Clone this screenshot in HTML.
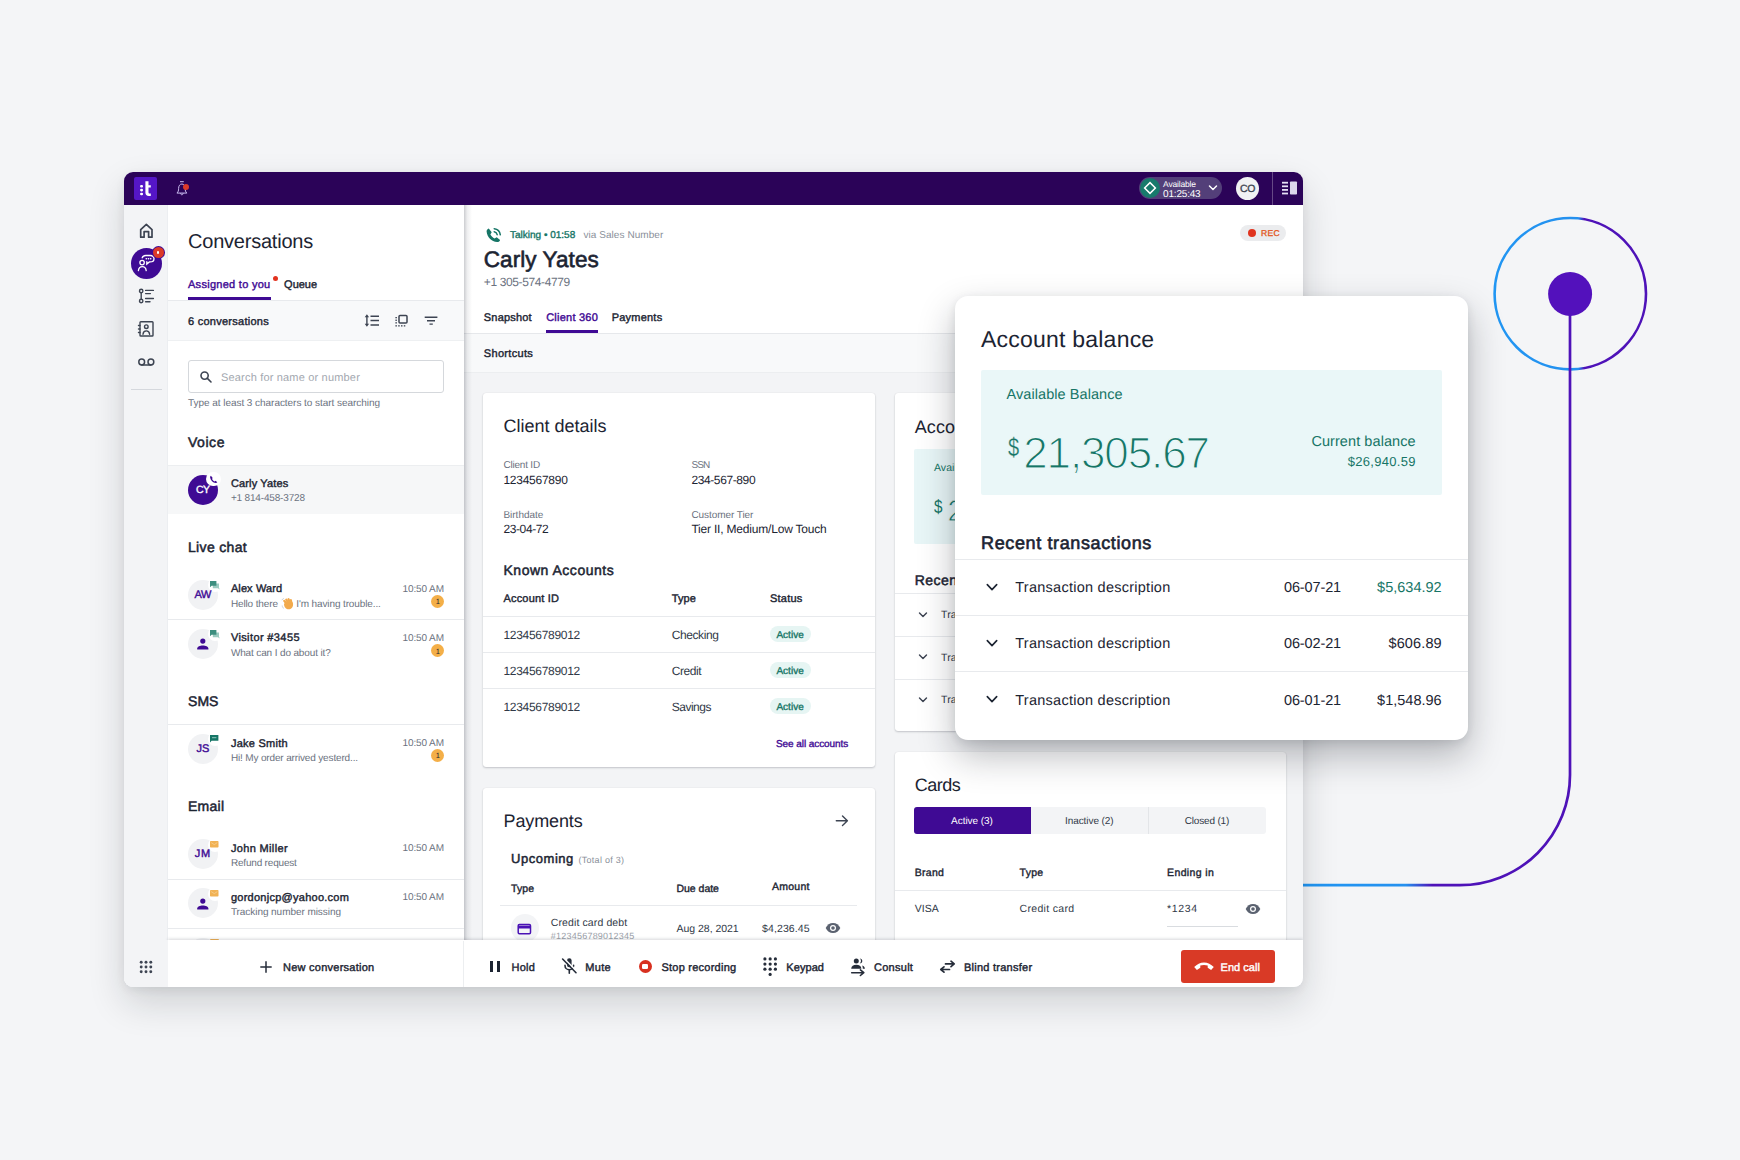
<!DOCTYPE html>
<html lang="en"><head><meta charset="utf-8"><title>Client 360</title>
<style>
html,body{margin:0;padding:0;}
body{width:1740px;height:1160px;overflow:hidden;background:#f4f5f7;font-family:"Liberation Sans",sans-serif;}
#page{position:relative;width:1740px;height:1160px;overflow:hidden;background:#f4f5f7;}
#page div,#page span,#page svg{position:absolute;box-sizing:border-box;}
.t{white-space:nowrap;text-rendering:geometricPrecision;}
.layer{left:0;top:0;width:1740px;height:1160px;}
#appshadow{left:124px;top:172px;width:1179px;height:815px;border-radius:9px 9px 9px 9px;background:#fff;
  box-shadow:0 16px 36px rgba(20,22,30,.16),0 3px 10px rgba(20,22,30,.07);}
#app{clip-path:inset(172px 437px 173px 124px round 9px 9px 9px 9px);}
#topbar{left:124px;top:172px;width:1179px;height:33px;background:#2b0358;}
#nav{left:124px;top:205px;width:44px;height:782px;background:#f3f4f6;border-right:1px solid #eceef1;}
#conv{left:168px;top:205px;width:296px;height:782px;background:#fff;}
#main{left:464px;top:205px;width:839px;height:782px;background:#f3f4f6;}
#mainhead{left:464px;top:205px;width:839px;height:128px;background:#fff;}
#shortcuts{left:464px;top:333px;width:839px;height:40px;background:#f8f9fa;border-top:1px solid #e6e8eb;border-bottom:1px solid #eceef0;}
.card{background:#fff;border-radius:3px;box-shadow:0 1px 2px rgba(30,35,50,.22),0 0 1px rgba(30,35,50,.12);}
.hl{height:1px;background:#e8eaed;}
.pill{background:#e6f5f3;border-radius:8px;}
#bottombar{left:168px;top:940px;width:1135px;height:47px;background:#fff;box-shadow:0 -1px 3px rgba(30,35,50,.18);}
#popupshadow{left:955px;top:296px;width:513px;height:444px;border-radius:13px;background:#fff;
  box-shadow:0 16px 36px rgba(20,25,35,.29),0 3px 10px rgba(20,25,35,.10);}
.av{border-radius:50%;background:#f1f2f4;}

</style></head>
<body>
<div id="page">
<!-- decorative connector -->
<svg class="layer" id="deco" viewBox="0 0 1740 1160" width="1740" height="1160">
  <defs>
    <linearGradient id="gcirc" x1="1494" y1="0" x2="1646" y2="0" gradientUnits="userSpaceOnUse">
      <stop offset="0" stop-color="#2196f3"/><stop offset=".555" stop-color="#2490ee"/><stop offset=".595" stop-color="#4e12b8"/><stop offset="1" stop-color="#4e12b8"/>
    </linearGradient>
    <linearGradient id="gline" x1="1303" y1="0" x2="1570" y2="0" gradientUnits="userSpaceOnUse">
      <stop offset="0" stop-color="#2196f3"/><stop offset=".385" stop-color="#2490ee"/><stop offset=".485" stop-color="#4e12b8"/><stop offset="1" stop-color="#4e12b8"/>
    </linearGradient>
  </defs>
  <circle cx="1570.3" cy="293.7" r="75.7" fill="none" stroke="url(#gcirc)" stroke-width="2.6"/>
  <path d="M1570 294 V775 A110.2 110.2 0 0 1 1459.800 885.200 H1300" fill="none" stroke="url(#gline)" stroke-width="2.700"/>
  <circle cx="1570.100" cy="294" r="22" fill="#5311bc"/>
</svg>

<div id="appshadow"></div>
<div id="app" class="layer">
  <div id="nav"></div>
  <div id="conv"></div>
  <div id="main"></div>
  <div id="mainhead"></div>
  <div id="shortcuts"></div>
  <div style="left:464px;top:205px;width:8px;height:735px;background:linear-gradient(to right,rgba(40,45,60,.24),rgba(40,45,60,.08) 40%,rgba(40,45,60,0));"></div>

  <!-- ============ conversations panel ============ -->
  <div style="left:188px;top:297px;width:83px;height:3px;background:#3f0a94;"></div>
  <div class="hl" style="left:168px;top:300px;width:296px;"></div>
  <div style="left:168px;top:301px;width:296px;height:40px;background:#f8f9fa;border-bottom:1px solid #eef0f2;"></div>
  <div style="left:272.7px;top:276.3px;width:5px;height:5px;border-radius:50%;background:#e2331f;"></div>
  <div style="left:188px;top:360px;width:256px;height:33px;border:1px solid #d5d8dc;border-radius:3px;background:#fff;"></div>
  <div class="hl" style="left:168px;top:465px;width:296px;background:#eceef0;"></div>
  <div style="left:168px;top:466px;width:296px;height:48px;background:#f6f7f8;"></div>
  <div class="hl" style="left:168px;top:619px;width:296px;"></div>
  <div class="hl" style="left:168px;top:724px;width:296px;"></div>
  <div class="hl" style="left:168px;top:879px;width:296px;"></div>
  <div class="hl" style="left:168px;top:928px;width:296px;"></div>
  <div class="av" style="left:188px;top:938px;width:30px;height:30px;"></div>
  <div style="left:210px;top:939px;width:8.5px;height:4px;border-radius:1px;background:#f1b254;"></div>
  <!-- avatars -->
  <div style="left:188px;top:475px;width:30px;height:30px;border-radius:50%;background:#3f0a94;"></div>
  <div class="av" style="left:188px;top:580px;width:30px;height:30px;"></div>
  <div class="av" style="left:188px;top:629px;width:30px;height:30px;"></div>
  <div class="av" style="left:188px;top:734px;width:30px;height:30px;"></div>
  <div class="av" style="left:188px;top:839px;width:30px;height:30px;"></div>
  <div class="av" style="left:188px;top:888px;width:30px;height:30px;"></div>
  <!-- unread badges -->
  <div style="left:431px;top:595px;width:13px;height:13px;border-radius:50%;background:#f4af48;"></div>
  <div style="left:431px;top:644px;width:13px;height:13px;border-radius:50%;background:#f4af48;"></div>
  <div style="left:431px;top:749px;width:13px;height:13px;border-radius:50%;background:#f4af48;"></div>
  <svg style="left:363px;top:313px;" width="18" height="15" viewBox="0 0 18 15"><g fill="none" stroke="#3d4452" stroke-width="1.5"><path d="M7.500 3.300H16M7.500 7.500H16M7.500 11.900H16"/><path d="M3.900 3V12" stroke-width="1.400"/></g><path d="M3.900 1.300L6.100 4.200H1.700ZM3.900 13.700L6.100 10.800H1.700Z" fill="#3d4452"/></svg>
<svg style="left:394px;top:313px;" width="16" height="15" viewBox="0 0 16 15"><rect x="5" y="2.400" width="8" height="7.600" rx="1" fill="none" stroke="#3d4452" stroke-width="1.500"/><g fill="#3d4452"><rect x="1.400" y="4" width="1.500" height="1.300"/><rect x="1.400" y="6.600" width="1.500" height="1.300"/><rect x="1.400" y="9.200" width="1.500" height="1.300"/><rect x="1.400" y="12.200" width="1.500" height="1.300"/><rect x="4.200" y="12.200" width="1.500" height="1.300"/><rect x="7" y="12.200" width="1.500" height="1.300"/><rect x="9.800" y="12.200" width="1.500" height="1.300"/></g></svg>
<svg style="left:423px;top:315px;" width="16" height="11" viewBox="0 0 16 11"><path d="M1.700 2.200H14.400M4 5.700H12M6.500 9.100H9.800" fill="none" stroke="#3d4452" stroke-width="1.400"/></svg>
<svg style="left:198px;top:369px;" width="16" height="16" viewBox="0 0 16 16"><g fill="none" stroke="#3d4452" stroke-width="1.600" stroke-linecap="round"><circle cx="6.600" cy="6.600" r="3.600"/><path d="M9.400 9.400L13 13"/></g></svg>
<div style="left:206.400px;top:471.900px;width:14.400px;height:14.400px;border-radius:50%;background:#fff;"></div>
<svg style="left:209.2px;top:474.6px;" width="9" height="9" viewBox="0 0 9 9"><path d="M1.900 .8c-.6.400-.9.900-.8 1.600.500 2.900 2.700 5.200 5.600 5.700.7.100 1.200-.200 1.600-.800l-1.700-1.500-1.100.700c-1-.600-1.900-1.500-2.500-2.500l.7-1.100z" fill="#3f0a94"/></svg>
<div style="left:207.5px;top:577.8px;width:14px;height:14px;border-radius:50%;background:#fff;"></div>
<svg style="left:210px;top:580.5px;" width="9.5" height="9" viewBox="0 0 9.5 9"><path d="M2.800 2.400h6.200v4.600l1 1.500-2.200-1.200H2.800z" fill="#9ccbc0"/><path d="M0 0h6.400v4.700H1.600L0 6.200z" fill="#3d8f7f"/></svg>
<div style="left:207.5px;top:627px;width:14px;height:14px;border-radius:50%;background:#fff;"></div>
<svg style="left:210px;top:629.7px;" width="9.5" height="9" viewBox="0 0 9.5 9"><path d="M2.800 2.400h6.200v4.600l1 1.500-2.200-1.200H2.800z" fill="#9ccbc0"/><path d="M0 0h6.400v4.700H1.600L0 6.200z" fill="#3d8f7f"/></svg>
<div style="left:207.5px;top:731.800px;width:14px;height:14px;border-radius:50%;background:#fff;"></div>
<svg style="left:210.2px;top:735.3px;" width="8.4" height="7.4" viewBox="0 0 8.4 7.4"><path d="M0 0h8.400v5.800H1.600L0 7.400z" fill="#167566"/><rect x="2" y="2.200" width="4.400" height="1" fill="#8fc7ba"/></svg>
<div style="left:207.5px;top:837.6px;width:14px;height:14px;border-radius:50%;background:#fff;"></div>
<svg style="left:210.2px;top:841.4px;" width="8.5" height="6.5" viewBox="0 0 8.5 6.5"><rect width="8.500" height="6.500" rx=".8" fill="#f1b254"/><path d="M1.200 1.600L4.250 3.600L7.300 1.600" stroke="#f6cf93" stroke-width=".8" fill="none"/></svg>
<div style="left:207.5px;top:886.6px;width:14px;height:14px;border-radius:50%;background:#fff;"></div>
<svg style="left:210.2px;top:890.4px;" width="8.5" height="6.5" viewBox="0 0 8.5 6.5"><rect width="8.500" height="6.500" rx=".8" fill="#f1b254"/><path d="M1.200 1.600L4.250 3.600L7.300 1.600" stroke="#f6cf93" stroke-width=".8" fill="none"/></svg>
<svg style="left:196px;top:637.3px;" width="14" height="14" viewBox="0 0 14 14"><circle cx="6.800" cy="4.100" r="2.600" fill="#3f0a94"/><path d="M1.200 12.400v-.8c0-2 2.800-3.200 5.600-3.200s5.600 1.200 5.600 3.200v.8z" fill="#3f0a94"/></svg>
<svg style="left:196px;top:897.3px;" width="14" height="14" viewBox="0 0 14 14"><circle cx="6.800" cy="4.100" r="2.600" fill="#3f0a94"/><path d="M1.200 12.400v-.8c0-2 2.800-3.200 5.600-3.200s5.600 1.200 5.600 3.200v.8z" fill="#3f0a94"/></svg>
<svg style="left:281px;top:597px;" width="13" height="13" viewBox="0 0 13 13"><g fill="#f2aa4c"><rect x="3.300" y="2.300" width="2.200" height="6" rx="1.100" transform="rotate(-38 4.400 5.300)"/><rect x="5.200" y="1.200" width="2.200" height="6.500" rx="1.100" transform="rotate(-30 6.300 4.400)"/><rect x="7.200" y="1" width="2.200" height="6.500" rx="1.100" transform="rotate(-22 8.300 4.200)"/><rect x="9.300" y="2" width="2" height="5.500" rx="1" transform="rotate(-14 10.300 4.700)"/><path d="M3 7c0-1 5-3.500 7.500-2.500 1.800.8 2 3.500 1 5.500-1 1.800-3 2.600-5 2.200C4.200 11.700 3 9.500 3 7z"/></g><path d="M1.200 8.500c0 1.300.6 2.300 1.600 2.900M.9 3.200c.3-.9 1-1.500 1.900-1.800" stroke="#b9bec6" stroke-width=".7" fill="none"/></svg>
  <span class="t" style="top:228px;font-size:20px;line-height:28px;color:#1c2432;left:188px;letter-spacing:-0.219px;">Conversations</span>
<span class="t" style="top:277px;font-size:11px;line-height:16px;color:#3f0a94;-webkit-text-stroke:0.40px #3f0a94;left:188px;letter-spacing:0.281px;">Assigned to you</span>
<span class="t" style="top:277px;font-size:11px;line-height:16px;color:#1c2432;-webkit-text-stroke:0.40px #1c2432;left:284.1px;letter-spacing:-0.006px;">Queue</span>
<span class="t" style="top:314px;font-size:11px;line-height:16px;color:#1c2432;-webkit-text-stroke:0.40px #1c2432;left:188px;letter-spacing:0.264px;">6 conversations</span>
<span class="t" style="top:370px;font-size:11px;line-height:16px;color:#a3a8b0;left:221px;letter-spacing:0.179px;">Search for name or number</span>
<span class="t" style="top:397px;font-size:10px;line-height:14px;color:#6b7280;left:188px;letter-spacing:-0.044px;">Type at least 3 characters to start searching</span>
<span class="t" style="top:432px;font-size:14px;line-height:20px;color:#1c2432;-webkit-text-stroke:0.50px #1c2432;left:188px;letter-spacing:0.550px;">Voice</span>
<span class="t" style="top:476px;font-size:11px;line-height:16px;color:#1c2432;-webkit-text-stroke:0.40px #1c2432;left:230.9px;letter-spacing:0.151px;">Carly Yates</span>
<span class="t" style="top:492px;font-size:10px;line-height:14px;color:#6b7280;left:230.9px;letter-spacing:-0.165px;">+1 814-458-3728</span>
<span class="t" style="top:483px;font-size:10.5px;line-height:14px;color:#fff;-webkit-text-stroke:0.38px #fff;left:196px;letter-spacing:-0.547px;">CY</span>
<span class="t" style="top:537px;font-size:14px;line-height:20px;color:#1c2432;-webkit-text-stroke:0.50px #1c2432;left:188px;letter-spacing:0.328px;">Live chat</span>
<span class="t" style="top:581px;font-size:11px;line-height:16px;color:#1c2432;-webkit-text-stroke:0.40px #1c2432;left:230.9px;letter-spacing:0.108px;">Alex Ward</span>
<span class="t" style="top:598px;font-size:10px;line-height:14px;color:#6b7280;left:230.9px;letter-spacing:-0.124px;">Hello there</span>
<span class="t" style="top:598px;font-size:10px;line-height:14px;color:#6b7280;left:296.3px;letter-spacing:-0.122px;">I&#x27;m having trouble...</span>
<span class="t" style="top:583px;font-size:10px;line-height:14px;color:#6b7280;right:1296px;letter-spacing:-0.108px;margin-right:0.108px;">10:50 AM</span>
<span class="t" style="top:587px;font-size:11px;line-height:16px;color:#3f0a94;-webkit-text-stroke:0.40px #3f0a94;left:194.4px;letter-spacing:-0.306px;">AW</span>
<span class="t" style="top:597px;font-size:7.5px;line-height:10px;color:#1c2432;left:435.8px;">1</span>
<span class="t" style="top:630px;font-size:11px;line-height:16px;color:#1c2432;-webkit-text-stroke:0.40px #1c2432;left:230.9px;letter-spacing:0.383px;">Visitor #3455</span>
<span class="t" style="top:647px;font-size:10px;line-height:14px;color:#6b7280;left:230.9px;letter-spacing:-0.137px;">What can I do about it?</span>
<span class="t" style="top:632px;font-size:10px;line-height:14px;color:#6b7280;right:1296px;letter-spacing:-0.108px;margin-right:0.108px;">10:50 AM</span>
<span class="t" style="top:647px;font-size:7.5px;line-height:10px;color:#1c2432;left:435.8px;">1</span>
<span class="t" style="top:691px;font-size:14px;line-height:20px;color:#1c2432;-webkit-text-stroke:0.50px #1c2432;left:188px;letter-spacing:0.052px;">SMS</span>
<span class="t" style="top:736px;font-size:11px;line-height:16px;color:#1c2432;-webkit-text-stroke:0.40px #1c2432;left:230.9px;letter-spacing:0.258px;">Jake Smith</span>
<span class="t" style="top:752px;font-size:10px;line-height:14px;color:#6b7280;left:230.9px;letter-spacing:-0.152px;">Hi! My order arrived yesterd...</span>
<span class="t" style="top:737px;font-size:10px;line-height:14px;color:#6b7280;right:1296px;letter-spacing:-0.108px;margin-right:0.108px;">10:50 AM</span>
<span class="t" style="top:741px;font-size:11px;line-height:16px;color:#3f0a94;-webkit-text-stroke:0.40px #3f0a94;left:196.4px;letter-spacing:0.078px;">JS</span>
<span class="t" style="top:751px;font-size:7.5px;line-height:10px;color:#1c2432;left:435.8px;">1</span>
<span class="t" style="top:796px;font-size:14px;line-height:20px;color:#1c2432;-webkit-text-stroke:0.50px #1c2432;left:188px;letter-spacing:0.257px;">Email</span>
<span class="t" style="top:841px;font-size:11px;line-height:16px;color:#1c2432;-webkit-text-stroke:0.40px #1c2432;left:230.9px;letter-spacing:0.347px;">John Miller</span>
<span class="t" style="top:857px;font-size:10px;line-height:14px;color:#6b7280;left:230.9px;letter-spacing:-0.185px;">Refund request</span>
<span class="t" style="top:842px;font-size:10px;line-height:14px;color:#6b7280;right:1296px;letter-spacing:-0.108px;margin-right:0.108px;">10:50 AM</span>
<span class="t" style="top:846px;font-size:11px;line-height:16px;color:#3f0a94;-webkit-text-stroke:0.40px #3f0a94;left:194.8px;letter-spacing:0.664px;">JM</span>
<span class="t" style="top:890px;font-size:11px;line-height:16px;color:#1c2432;-webkit-text-stroke:0.40px #1c2432;left:230.9px;letter-spacing:0.263px;">gordonjcp@yahoo.com</span>
<span class="t" style="top:906px;font-size:10px;line-height:14px;color:#6b7280;left:230.9px;letter-spacing:-0.058px;">Tracking number missing</span>
<span class="t" style="top:891px;font-size:10px;line-height:14px;color:#6b7280;right:1296px;letter-spacing:-0.108px;margin-right:0.108px;">10:50 AM</span>

  <!-- ============ main ============ -->
  <div style="left:546px;top:330px;width:52px;height:3px;background:#3f0a94;"></div>
  <div style="left:1240px;top:225px;width:46px;height:16px;border-radius:8px;background:#ebecee;"></div>
  <div style="left:1248px;top:229px;width:8px;height:8px;border-radius:50%;background:#e0341f;"></div>

  <!-- client details card -->
  <div class="card" style="left:483px;top:393px;width:392px;height:374px;"></div>
  <div class="hl" style="left:483px;top:616px;width:392px;"></div>
  <div class="hl" style="left:483px;top:652px;width:392px;"></div>
  <div class="hl" style="left:483px;top:688px;width:392px;"></div>
  <div class="pill" style="left:770px;top:626px;width:41px;height:16px;"></div>
  <div class="pill" style="left:770px;top:662px;width:41px;height:16px;"></div>
  <div class="pill" style="left:770px;top:698px;width:41px;height:16px;"></div>

  <!-- payments card -->
  <div class="card" style="left:483px;top:788px;width:392px;height:220px;"></div>
  <div class="hl" style="left:500px;top:905px;width:357px;"></div>
  <div class="av" style="left:510.5px;top:914px;width:28px;height:28px;background:#f3f4f6;"></div>

  <!-- account balance card (mostly hidden) -->
  <div class="card" style="left:895px;top:393px;width:391px;height:338px;"></div>
  <div style="left:914px;top:449px;width:352px;height:95px;background:#e8f6f7;border-radius:2px;"></div>
  <div class="hl" style="left:895px;top:593px;width:391px;"></div>
  <div class="hl" style="left:895px;top:636px;width:391px;"></div>
  <div class="hl" style="left:895px;top:679px;width:391px;"></div>

  <!-- cards card -->
  <div class="card" style="left:895px;top:752px;width:391px;height:240px;"></div>
  <div style="left:914px;top:807px;width:352px;height:27px;background:#f3f4f6;border-radius:3px;"></div>
  <div style="left:914px;top:807px;width:117px;height:27px;background:#3f0a94;border-radius:3px 0 0 3px;"></div>
  <div style="left:1148px;top:807px;width:1px;height:27px;background:#e3e5e8;"></div>
  <div class="hl" style="left:895px;top:890px;width:391px;"></div>
  <div class="hl" style="left:1167px;top:926px;width:71px;background:#d9dce0;"></div>
  <svg style="left:485px;top:226.5px;" width="17" height="17" viewBox="0 0 17 17"><path d="M3.800 1.600c-1.400.500-2.300 1.500-2.200 3 .500 5.600 4.900 10 10.500 10.500 1.500.100 2.500-.800 3-2.200l-3.400-2.600-2.200 1.300c-1.700-1-3.100-2.400-4.100-4.100l1.300-2.200z" fill="#167566"/><g fill="none" stroke="#167566" stroke-width="1.500" stroke-linecap="round"><path d="M9.200 4.700c1.500.300 2.700 1.500 3 3"/><path d="M9.200 1.700c3.200.400 5.700 2.900 6.100 6.100"/></g></svg>
<svg style="left:834px;top:814px;" width="16" height="14" viewBox="0 0 16 14"><path d="M2.300 6.700H13M8.500 1.900L13.400 6.700L8.500 11.500" fill="none" stroke="#3d4452" stroke-width="1.400" stroke-linecap="round" stroke-linejoin="round"/></svg>
<svg style="left:517px;top:922.6px;" width="15" height="12" viewBox="0 0 15 12"><rect x="1.200" y="1.500" width="12.300" height="9.200" rx="1.200" fill="none" stroke="#4a12b5" stroke-width="1.500"/><rect x="1.200" y="2.600" width="12.300" height="2.900" fill="#4a12b5"/></svg>
<svg style="left:824.7px;top:922.3px;" width="16" height="12" viewBox="0 0 16 12"><path d="M.7 6C2 2.900 4.800 1 8 1s6 1.900 7.300 5C14 9.100 11.200 11 8 11S2 9.100.7 6z" fill="#5b6270"/><circle cx="8" cy="6" r="3" fill="#fff"/><circle cx="8" cy="6" r="1.800" fill="#5b6270"/></svg>
<svg style="left:1245.2px;top:902.7px;" width="16" height="12" viewBox="0 0 16 12"><path d="M.7 6C2 2.900 4.800 1 8 1s6 1.900 7.300 5C14 9.100 11.200 11 8 11S2 9.100.7 6z" fill="#5b6270"/><circle cx="8" cy="6" r="3" fill="#fff"/><circle cx="8" cy="6" r="1.800" fill="#5b6270"/></svg>
<svg style="left:917.8px;top:610.7px;" width="10" height="8" viewBox="0 0 10 8"><path d="M1.500 2L5 5.600L8.500 2" fill="none" stroke="#3d4452" stroke-width="1.400" stroke-linecap="round" stroke-linejoin="round"/></svg>
<svg style="left:917.8px;top:653px;" width="10" height="8" viewBox="0 0 10 8"><path d="M1.500 2L5 5.600L8.500 2" fill="none" stroke="#3d4452" stroke-width="1.400" stroke-linecap="round" stroke-linejoin="round"/></svg>
<svg style="left:917.8px;top:695.7px;" width="10" height="8" viewBox="0 0 10 8"><path d="M1.500 2L5 5.600L8.500 2" fill="none" stroke="#3d4452" stroke-width="1.400" stroke-linecap="round" stroke-linejoin="round"/></svg>
  <span class="t" style="top:229px;font-size:10px;line-height:14px;color:#167566;-webkit-text-stroke:0.36px #167566;left:510px;">Talking • 01:58</span>
<span class="t" style="top:229px;font-size:10px;line-height:14px;color:#8a909a;left:583.4px;letter-spacing:0.067px;">via Sales Number</span>
<span class="t" style="top:244px;font-size:22.5px;line-height:32px;color:#1c2432;-webkit-text-stroke:0.62px #1c2432;left:483.8px;letter-spacing:0.071px;">Carly Yates</span>
<span class="t" style="top:274px;font-size:12px;line-height:16px;color:#6b7280;left:483.8px;letter-spacing:-0.383px;">+1 305-574-4779</span>
<span class="t" style="top:310px;font-size:11px;line-height:16px;color:#1c2432;-webkit-text-stroke:0.40px #1c2432;left:483.8px;letter-spacing:0.189px;">Snapshot</span>
<span class="t" style="top:310px;font-size:11px;line-height:16px;color:#3f0a94;-webkit-text-stroke:0.40px #3f0a94;left:546.2px;letter-spacing:0.225px;">Client 360</span>
<span class="t" style="top:310px;font-size:11px;line-height:16px;color:#1c2432;-webkit-text-stroke:0.40px #1c2432;left:611.7px;letter-spacing:0.222px;">Payments</span>
<span class="t" style="top:346px;font-size:11px;line-height:16px;color:#1c2432;-webkit-text-stroke:0.40px #1c2432;left:483.8px;letter-spacing:0.315px;">Shortcuts</span>
<span class="t" style="top:227px;font-size:8.5px;line-height:12px;color:#e2571e;-webkit-text-stroke:0.35px #e2571e;left:1261.1px;letter-spacing:0.249px;">REC</span>
<span class="t" style="top:413px;font-size:18px;line-height:26px;color:#1c2432;left:503.4px;letter-spacing:-0.004px;">Client details</span>
<span class="t" style="top:459px;font-size:10px;line-height:14px;color:#6b7280;left:503.4px;letter-spacing:-0.195px;">Client ID</span>
<span class="t" style="top:472px;font-size:12px;line-height:16px;color:#1c2432;left:503.4px;letter-spacing:-0.255px;">1234567890</span>
<span class="t" style="top:459px;font-size:10px;line-height:14px;color:#6b7280;left:691.4px;letter-spacing:-0.854px;">SSN</span>
<span class="t" style="top:472px;font-size:12px;line-height:16px;color:#1c2432;left:691.4px;letter-spacing:-0.388px;">234-567-890</span>
<span class="t" style="top:509px;font-size:10px;line-height:14px;color:#6b7280;left:503.4px;">Birthdate</span>
<span class="t" style="top:521px;font-size:12px;line-height:16px;color:#1c2432;left:503.4px;letter-spacing:-0.381px;">23-04-72</span>
<span class="t" style="top:509px;font-size:10px;line-height:14px;color:#6b7280;left:691.4px;letter-spacing:-0.061px;">Customer Tier</span>
<span class="t" style="top:521px;font-size:12px;line-height:16px;color:#1c2432;left:691.4px;letter-spacing:-0.195px;">Tier II, Medium/Low Touch</span>
<span class="t" style="top:560px;font-size:14px;line-height:20px;color:#1c2432;-webkit-text-stroke:0.50px #1c2432;left:503.5px;letter-spacing:0.513px;">Known Accounts</span>
<span class="t" style="top:591px;font-size:11px;line-height:16px;color:#1c2432;-webkit-text-stroke:0.40px #1c2432;left:503.5px;letter-spacing:0.169px;">Account ID</span>
<span class="t" style="top:591px;font-size:11px;line-height:16px;color:#1c2432;-webkit-text-stroke:0.40px #1c2432;left:671.7px;letter-spacing:0.085px;">Type</span>
<span class="t" style="top:591px;font-size:11px;line-height:16px;color:#1c2432;-webkit-text-stroke:0.40px #1c2432;left:770px;letter-spacing:0.235px;">Status</span>
<span class="t" style="top:627px;font-size:12px;line-height:16px;color:#313947;left:503.5px;letter-spacing:-0.299px;">123456789012</span>
<span class="t" style="top:627px;font-size:12px;line-height:16px;color:#313947;left:671.7px;letter-spacing:-0.404px;">Checking</span>
<span class="t" style="top:629px;font-size:10px;line-height:14px;color:#167566;-webkit-text-stroke:0.36px #167566;left:776.4px;letter-spacing:0.028px;">Active</span>
<span class="t" style="top:663px;font-size:12px;line-height:16px;color:#313947;left:503.5px;letter-spacing:-0.299px;">123456789012</span>
<span class="t" style="top:663px;font-size:12px;line-height:16px;color:#313947;left:671.7px;letter-spacing:-0.436px;">Credit</span>
<span class="t" style="top:665px;font-size:10px;line-height:14px;color:#167566;-webkit-text-stroke:0.36px #167566;left:776.4px;letter-spacing:0.028px;">Active</span>
<span class="t" style="top:699px;font-size:12px;line-height:16px;color:#313947;left:503.5px;letter-spacing:-0.299px;">123456789012</span>
<span class="t" style="top:699px;font-size:12px;line-height:16px;color:#313947;left:671.7px;letter-spacing:-0.486px;">Savings</span>
<span class="t" style="top:701px;font-size:10px;line-height:14px;color:#167566;-webkit-text-stroke:0.36px #167566;left:776.4px;letter-spacing:0.028px;">Active</span>
<span class="t" style="top:738px;font-size:10px;line-height:14px;color:#3f0a94;-webkit-text-stroke:0.36px #3f0a94;left:776px;letter-spacing:-0.074px;">See all accounts</span>
<span class="t" style="top:808px;font-size:18px;line-height:26px;color:#1c2432;left:503.6px;letter-spacing:-0.131px;">Payments</span>
<span class="t" style="top:850px;font-size:13px;line-height:18px;color:#1c2432;-webkit-text-stroke:0.47px #1c2432;left:511.1px;letter-spacing:0.521px;">Upcoming</span>
<span class="t" style="top:854px;font-size:9px;line-height:12px;color:#8a909a;left:578.6px;letter-spacing:0.256px;">(Total of 3)</span>
<span class="t" style="top:882px;font-size:10.5px;line-height:14px;color:#1c2432;-webkit-text-stroke:0.38px #1c2432;left:511.1px;letter-spacing:0.059px;">Type</span>
<span class="t" style="top:882px;font-size:10.5px;line-height:14px;color:#1c2432;-webkit-text-stroke:0.38px #1c2432;left:676.5px;letter-spacing:-0.028px;">Due date</span>
<span class="t" style="top:880px;font-size:10.5px;line-height:14px;color:#1c2432;-webkit-text-stroke:0.38px #1c2432;left:772px;letter-spacing:0.252px;">Amount</span>
<span class="t" style="top:916px;font-size:10.5px;line-height:14px;color:#313947;left:550.8px;letter-spacing:0.111px;">Credit card debt</span>
<span class="t" style="top:930px;font-size:9px;line-height:12px;color:#9aa0a8;left:550.8px;letter-spacing:0.225px;">#123456789012345</span>
<span class="t" style="top:922px;font-size:10.5px;line-height:14px;color:#313947;left:676.5px;letter-spacing:-0.024px;">Aug 28, 2021</span>
<span class="t" style="top:922px;font-size:10.5px;line-height:14px;color:#313947;left:762.1px;letter-spacing:0.098px;">$4,236.45</span>
<span class="t" style="top:414px;font-size:18px;line-height:26px;color:#1c2432;left:914.7px;letter-spacing:0.127px;">Account balance</span>
<span class="t" style="top:461px;font-size:10.5px;line-height:14px;color:#167566;left:934px;letter-spacing:0.041px;">Available Balance</span>
<span class="t" style="top:495px;font-size:19px;line-height:26px;color:#167566;left:934px;transform:scaleX(.8);transform-origin:left center;">$</span>
<span class="t" style="top:491px;font-size:30px;line-height:42px;color:#167566;left:947.6px;letter-spacing:-0.385px;-webkit-text-stroke:0.8px #e8f6f7;">21,305.67</span>
<span class="t" style="top:570px;font-size:14px;line-height:20px;color:#1c2432;-webkit-text-stroke:0.50px #1c2432;left:914.7px;letter-spacing:0.488px;">Recent transactions</span>
<span class="t" style="top:608px;font-size:10.5px;line-height:14px;color:#313947;left:941px;letter-spacing:0.166px;">Transaction description</span>
<span class="t" style="top:651px;font-size:10.5px;line-height:14px;color:#313947;left:941px;letter-spacing:0.166px;">Transaction description</span>
<span class="t" style="top:693px;font-size:10.5px;line-height:14px;color:#313947;left:941px;letter-spacing:0.166px;">Transaction description</span>
<span class="t" style="top:772px;font-size:18px;line-height:26px;color:#1c2432;left:914.7px;letter-spacing:-0.503px;">Cards</span>
<span class="t" style="top:815px;font-size:10px;line-height:14px;color:#fff;left:951.1px;letter-spacing:-0.053px;">Active (3)</span>
<span class="t" style="top:815px;font-size:10px;line-height:14px;color:#313947;left:1065px;letter-spacing:-0.072px;">Inactive (2)</span>
<span class="t" style="top:815px;font-size:10px;line-height:14px;color:#313947;left:1184.7px;letter-spacing:-0.174px;">Closed (1)</span>
<span class="t" style="top:866px;font-size:10.5px;line-height:14px;color:#1c2432;-webkit-text-stroke:0.38px #1c2432;left:914.7px;letter-spacing:0.294px;">Brand</span>
<span class="t" style="top:866px;font-size:10.5px;line-height:14px;color:#1c2432;-webkit-text-stroke:0.38px #1c2432;left:1019.5px;letter-spacing:0.309px;">Type</span>
<span class="t" style="top:866px;font-size:10.5px;line-height:14px;color:#1c2432;-webkit-text-stroke:0.38px #1c2432;left:1167.1px;letter-spacing:0.356px;">Ending in</span>
<span class="t" style="top:902px;font-size:10.5px;line-height:14px;color:#313947;left:914.7px;letter-spacing:0.016px;">VISA</span>
<span class="t" style="top:902px;font-size:10.5px;line-height:14px;color:#313947;left:1019.5px;letter-spacing:0.331px;">Credit card</span>
<span class="t" style="top:902px;font-size:10.5px;line-height:14px;color:#313947;left:1167.1px;letter-spacing:0.609px;">*1234</span>

  <!-- bottom bar -->
  <div id="bottombar"></div>
  <div style="left:124px;top:940px;width:44px;height:47px;background:#f3f4f6;"></div>
  <div style="left:463px;top:941px;width:1px;height:46px;background:#eceef0;"></div>
  <div style="left:1181px;top:950px;width:93.5px;height:33px;border-radius:3px;background:#d93a26;"></div>
  <svg style="left:259px;top:960px;" width="14" height="14" viewBox="0 0 14 14"><path d="M7 1.300V12.700M1.300 7H12.700" stroke="#262d3a" stroke-width="1.500" fill="none"/></svg>
<div style="left:489.800px;top:961px;width:3.500px;height:11px;background:#1c2432;"></div>
<div style="left:496.700px;top:961px;width:3.500px;height:11px;background:#1c2432;"></div>
<svg style="left:561px;top:957px;" width="17" height="18" viewBox="0 0 17 18"><g fill="none" stroke="#262d3a" stroke-width="1.600" stroke-linecap="round"><path d="M4 8.400c0 2.500 1.900 4.300 4.300 4.300s4.300-1.800 4.300-4.300"/><path d="M8.300 12.800V16.200"/></g><rect x="6" y="1.300" width="4.600" height="9" rx="2.300" fill="#262d3a"/><path d="M3.200 1.500L13.600 12.100" stroke="#fff" stroke-width="1.500"/><path d="M1.600 2L15 15.700" stroke="#262d3a" stroke-width="1.600" stroke-linecap="round"/></svg>
<div style="left:638.600px;top:960px;width:13.200px;height:13.200px;border-radius:50%;background:#d8301f;"></div>
<div style="left:642.400px;top:963.800px;width:5.600px;height:5.600px;border-radius:1.200px;background:#fff;"></div>
<svg style="left:763px;top:957px;" width="15" height="20" viewBox="0 0 15 20"><circle cx="1.90" cy="1.90" r="1.600" fill="#262d3a"/><circle cx="1.90" cy="7.05" r="1.600" fill="#262d3a"/><circle cx="1.90" cy="12.20" r="1.600" fill="#262d3a"/><circle cx="7.15" cy="1.90" r="1.600" fill="#262d3a"/><circle cx="7.15" cy="7.05" r="1.600" fill="#262d3a"/><circle cx="7.15" cy="12.20" r="1.600" fill="#262d3a"/><circle cx="12.40" cy="1.90" r="1.600" fill="#262d3a"/><circle cx="12.40" cy="7.05" r="1.600" fill="#262d3a"/><circle cx="12.40" cy="12.20" r="1.600" fill="#262d3a"/><circle cx="7.150" cy="17.400" r="1.600" fill="#262d3a"/></svg>
<svg style="left:850px;top:957px;" width="17" height="20" viewBox="0 0 17 20"><g fill="#262d3a"><circle cx="6.300" cy="3.900" r="2.500"/><path d="M1.200 11.800c0-2.600 2.300-4 5.100-4s5.100 1.400 5.100 4z"/><path d="M9.800 1.500c1.500.1 2.500 1.100 2.500 2.400s-1 2.300-2.500 2.400c.8-.6 1.200-1.400 1.200-2.400s-.4-1.800-1.200-2.400z"/><path d="M12.200 8.400c1.700.6 2.700 1.800 2.700 3.400h-2.100c0-1.400-.200-2.500-.600-3.400z"/></g><path d="M1.700 15.700H13.600M10.400 12.900L13.800 15.700L10.400 18.500" fill="none" stroke="#262d3a" stroke-width="1.600" stroke-linecap="round" stroke-linejoin="round"/></svg>
<svg style="left:939px;top:960px;" width="17" height="14" viewBox="0 0 17 14"><g fill="none" stroke="#262d3a" stroke-width="1.700" stroke-linecap="round" stroke-linejoin="round"><path d="M6.500 3.900H14.800M12 1.200L15.200 3.900L12 6.600"/><path d="M10.500 9.500H2.200M5 6.800L1.800 9.500L5 12.200"/></g></svg>
<svg style="left:1193px;top:961px;" width="22" height="10" viewBox="0 0 22 10"><path d="M1.200 6.100C3.900 3 7.300 1.400 11 1.400s7.100 1.600 9.800 4.700l-2.700 3-3.400-2.300V4.500c-1.100-.4-2.400-.6-3.700-.6s-2.600.2-3.700.6v2.300L3.900 9.100z" fill="#fff"/></svg>
  <span class="t" style="top:960px;font-size:11px;line-height:16px;color:#1c2432;-webkit-text-stroke:0.40px #1c2432;left:283px;letter-spacing:0.248px;">New conversation</span>
<span class="t" style="top:960px;font-size:11px;line-height:16px;color:#1c2432;-webkit-text-stroke:0.40px #1c2432;left:511.5px;letter-spacing:0.219px;">Hold</span>
<span class="t" style="top:960px;font-size:11px;line-height:16px;color:#1c2432;-webkit-text-stroke:0.40px #1c2432;left:585.3px;letter-spacing:0.308px;">Mute</span>
<span class="t" style="top:960px;font-size:11px;line-height:16px;color:#1c2432;-webkit-text-stroke:0.40px #1c2432;left:661.4px;letter-spacing:0.247px;">Stop recording</span>
<span class="t" style="top:960px;font-size:11px;line-height:16px;color:#1c2432;-webkit-text-stroke:0.40px #1c2432;left:786.3px;letter-spacing:0.065px;">Keypad</span>
<span class="t" style="top:960px;font-size:11px;line-height:16px;color:#1c2432;-webkit-text-stroke:0.40px #1c2432;left:874px;letter-spacing:0.272px;">Consult</span>
<span class="t" style="top:960px;font-size:11px;line-height:16px;color:#1c2432;-webkit-text-stroke:0.40px #1c2432;left:963.9px;letter-spacing:0.263px;">Blind transfer</span>
<span class="t" style="top:960px;font-size:11px;line-height:16px;color:#fff;-webkit-text-stroke:0.40px #fff;left:1220.5px;letter-spacing:0.045px;">End call</span>

  <!-- top bar -->
  <div id="topbar"></div>
  <div style="left:134px;top:177px;width:23px;height:23px;border-radius:2px;background:#5516c7;"></div>
  <div style="left:1139px;top:177px;width:83px;height:22px;border-radius:11px;background:#533f79;"></div>
  <div style="left:1140px;top:178px;width:20px;height:20px;border-radius:50%;background:#177a6c;"></div>
  <div style="left:1236px;top:177px;width:23px;height:23px;border-radius:50%;background:#f1f1f3;"></div>
  <div style="left:1272px;top:172px;width:1px;height:33px;background:rgba(255,255,255,.28);"></div>
  <svg style="left:134px;top:177px;" width="23" height="23" viewBox="0 0 23 23"><g fill="#fff"><rect x="6.100" y="7.900" width="2.900" height="2.600" rx="1.100"/><rect x="6.100" y="11.800" width="2.900" height="2.600" rx="1.100"/><rect x="6.100" y="15.700" width="2.900" height="2.600" rx="1.100"/><path d="M11.400 4.300h3.100v4h2.300v2.300h-2.300v4.600c0 .9.400 1.300 1.200 1.300h1.100v2.400h-1.800c-2.500 0-3.600-1.200-3.600-3.500z"/></g></svg>
<svg style="left:175px;top:180px;" width="16" height="17" viewBox="0 0 16 17"><g fill="none" stroke="#cbbdf0" stroke-width="1" stroke-linecap="round" stroke-linejoin="round"><path d="M5.400 1.700h3"/><path d="M2.200 12.800c1.100-1 1.400-2.200 1.400-4.300 0-2.700 1.300-4.500 3.300-4.500s3.300 1.800 3.300 4.500c0 2.100.3 3.300 1.400 4.300z"/><path d="M5.700 13.500c.2.900.6 1.300 1.200 1.300s1-.4 1.200-1.300"/></g></svg>
<div style="left:182.5px;top:183.600px;width:6.600px;height:6.600px;border-radius:50%;background:#dd3a2a;"></div>
<svg style="left:1140px;top:178px;" width="20" height="20" viewBox="0 0 20 20"><rect x="6.200" y="6.200" width="7.600" height="7.600" fill="none" stroke="#fff" stroke-width="1.500" transform="rotate(45 10 10)"/></svg>
<svg style="left:1207px;top:183px;" width="12" height="10" viewBox="0 0 12 10"><path d="M2.500 3L6 6.500L9.500 3" fill="none" stroke="#fff" stroke-width="1.500" stroke-linecap="round" stroke-linejoin="round"/></svg>
<svg style="left:1281px;top:180px;" width="18" height="16" viewBox="0 0 18 16"><g fill="#e6e0f5"><rect x="1" y="1.800" width="6" height="1.800"/><rect x="1" y="5.400" width="6" height="1.800"/><rect x="1" y="9" width="6" height="1.800"/><rect x="1" y="12.600" width="6" height="1.800"/><rect x="9" y="1.500" width="7" height="13" rx=".8" fill="#dcd6ec"/></g></svg>
  <span class="t" style="top:178px;font-size:8.5px;line-height:12px;color:#fff;left:1163.1px;letter-spacing:-0.172px;">Available</span>
<span class="t" style="top:188px;font-size:10px;line-height:14px;color:#fff;left:1163.1px;letter-spacing:-0.192px;">01:25:43</span>
<span class="t" style="top:182px;font-size:10.5px;line-height:14px;color:#3c4350;-webkit-text-stroke:0.38px #3c4350;left:1240.1px;letter-spacing:-0.375px;">CO</span>
  <svg style="left:138px;top:222px;" width="17" height="17" viewBox="0 0 17 17"><path d="M2.7 15.2V7.6L8.35 2.4L14 7.6V15.2H10.6V9.6H6.1V15.2Z" fill="none" stroke="#3d4452" stroke-width="1.700" stroke-linejoin="round"/></svg>
<div style="left:130.5px;top:247.5px;width:31px;height:31px;border-radius:50%;background:#3f0a94;"></div>
<svg style="left:134px;top:252px;" width="24" height="24" viewBox="0 0 24 24"><g fill="none" stroke="#fff" stroke-width="1.3" stroke-linecap="round"><circle cx="8.1" cy="10.6" r="2.2"/><path d="M4.4 18.6c.3-2.6 1.8-4 3.9-4s3.600 1.400 3.900 4"/><path d="M8.200 5.800c.6-1.600 1.800-2.300 3.600-2.300h4.400c2.400 0 3.800 1.200 3.800 3.200s-1.400 3.200-3.800 3.200h-.8l-2.600 2.200v-2.400"/><path d="M12.2 6.700h.2M14.400 6.700h.2M16.600 6.700h.2" stroke-width="1.500"/></g></svg>
<div style="left:151.8px;top:245.9px;width:13px;height:13px;border-radius:50%;background:#3f0a94;"></div>
<div style="left:152.8px;top:246.9px;width:11px;height:11px;border-radius:50%;background:#dc3a27;"></div>
<div style="left:157.1px;top:251.200px;width:2.4px;height:2.4px;border-radius:50%;background:#fff;"></div>
<svg style="left:138px;top:287px;" width="18" height="18" viewBox="0 0 18 18"><g fill="none" stroke="#3d4452" stroke-width="1.4" stroke-linecap="round"><circle cx="3.2" cy="4" r="1.700"/><circle cx="3.2" cy="14" r="1.700"/><path d="M3.2 5.800V12.200"/><path d="M7.600 3.400H15.400M7.600 6.600H12.400M7.600 11.500H15.400M7.600 14.700H12"/></g></svg>
<svg style="left:137px;top:319px;" width="19" height="20" viewBox="0 0 19 20"><g fill="none" stroke="#3d4452" stroke-width="1.4" stroke-linecap="round" stroke-linejoin="round"><rect x="3" y="2.700" width="13" height="14.300" rx=".8"/><path d="M1.500 6.500H3M1.500 10H3M1.500 13.500H3"/><circle cx="9.300" cy="7.700" r="1.800"/><path d="M6 15.200c.2-2.200 1.500-3.300 3.300-3.300s3.100 1.100 3.300 3.300"/></g></svg>
<svg style="left:136px;top:356px;" width="21" height="12" viewBox="0 0 21 12"><g fill="none" stroke="#3d4452" stroke-width="1.500" stroke-linecap="round"><circle cx="5.700" cy="6" r="2.900"/><circle cx="14.900" cy="6" r="2.900"/><path d="M5.700 8.900H14.900"/></g></svg>
<div style="left:131px;top:389px;width:31px;height:1px;background:#d5d8dd;"></div>
<svg style="left:139px;top:960px;" width="14" height="14" viewBox="0 0 14 14"><circle cx="2.2" cy="2.2" r="1.45" fill="#3d4452"/><circle cx="2.2" cy="7.0" r="1.45" fill="#3d4452"/><circle cx="2.2" cy="11.8" r="1.45" fill="#3d4452"/><circle cx="7.0" cy="2.2" r="1.45" fill="#3d4452"/><circle cx="7.0" cy="7.0" r="1.45" fill="#3d4452"/><circle cx="7.0" cy="11.8" r="1.45" fill="#3d4452"/><circle cx="11.8" cy="2.2" r="1.45" fill="#3d4452"/><circle cx="11.8" cy="7.0" r="1.45" fill="#3d4452"/><circle cx="11.8" cy="11.8" r="1.45" fill="#3d4452"/></svg>
</div>

<!-- ============ popup ============ -->
<div id="popupshadow"></div>
<div id="popup" class="layer">
  <div style="left:981px;top:370px;width:461px;height:125px;background:#eaf7f8;border-radius:2px;"></div>
  <div class="hl" style="left:955px;top:559px;width:513px;"></div>
  <div class="hl" style="left:955px;top:615px;width:513px;"></div>
  <div class="hl" style="left:955px;top:671px;width:513px;"></div>
  <svg style="left:985.5px;top:583.0px;" width="12" height="9" viewBox="0 0 12 9"><path d="M1.300 1.600L6 6.600L10.700 1.600" fill="none" stroke="#1c2432" stroke-width="1.600" stroke-linecap="round" stroke-linejoin="round"/></svg>
<svg style="left:985.5px;top:639.0px;" width="12" height="9" viewBox="0 0 12 9"><path d="M1.300 1.600L6 6.600L10.700 1.600" fill="none" stroke="#1c2432" stroke-width="1.600" stroke-linecap="round" stroke-linejoin="round"/></svg>
<svg style="left:985.5px;top:694.9px;" width="12" height="9" viewBox="0 0 12 9"><path d="M1.300 1.600L6 6.600L10.700 1.600" fill="none" stroke="#1c2432" stroke-width="1.600" stroke-linecap="round" stroke-linejoin="round"/></svg>
  <span class="t" style="top:323px;font-size:23px;line-height:32px;color:#1c2432;left:981px;letter-spacing:0.221px;">Account balance</span>
<span class="t" style="top:385px;font-size:14.5px;line-height:20px;color:#167566;left:1006.6px;letter-spacing:0.058px;">Available Balance</span>
<span class="t" style="top:429px;font-size:26px;line-height:36px;color:#167566;left:1007.5px;transform:scaleX(.77);transform-origin:left center;-webkit-text-stroke:0.25px #eaf7f8;">$</span>
<span class="t" style="top:423px;font-size:44px;line-height:62px;color:#167566;left:1023.2px;letter-spacing:-1.117px;-webkit-text-stroke:1.25px #eaf7f8;">21,305.67</span>
<span class="t" style="top:432px;font-size:14.5px;line-height:20px;color:#167566;right:324.4000000000001px;letter-spacing:0.075px;margin-right:-0.075px;">Current balance</span>
<span class="t" style="top:453px;font-size:13px;line-height:18px;color:#167566;right:324.4000000000001px;letter-spacing:0.322px;margin-right:-0.322px;">$26,940.59</span>
<span class="t" style="top:530px;font-size:18px;line-height:26px;color:#1c2432;-webkit-text-stroke:0.62px #1c2432;left:981px;letter-spacing:0.627px;">Recent transactions</span>
<span class="t" style="top:578px;font-size:14.5px;line-height:20px;color:#1c2432;left:1015.3px;letter-spacing:0.253px;">Transaction description</span>
<span class="t" style="top:578px;font-size:14.5px;line-height:20px;color:#1c2432;left:1284px;letter-spacing:-0.131px;">06-07-21</span>
<span class="t" style="top:578px;font-size:14.5px;line-height:20px;color:#167566;right:298.29999999999995px;letter-spacing:0.009px;margin-right:-0.009px;">$5,634.92</span>
<span class="t" style="top:634px;font-size:14.5px;line-height:20px;color:#1c2432;left:1015.3px;letter-spacing:0.253px;">Transaction description</span>
<span class="t" style="top:634px;font-size:14.5px;line-height:20px;color:#1c2432;left:1284px;letter-spacing:-0.131px;">06-02-21</span>
<span class="t" style="top:634px;font-size:14.5px;line-height:20px;color:#1c2432;right:298.29999999999995px;letter-spacing:0.140px;margin-right:-0.140px;">$606.89</span>
<span class="t" style="top:691px;font-size:14.5px;line-height:20px;color:#1c2432;left:1015.3px;letter-spacing:0.253px;">Transaction description</span>
<span class="t" style="top:691px;font-size:14.5px;line-height:20px;color:#1c2432;left:1284px;letter-spacing:-0.131px;">06-01-21</span>
<span class="t" style="top:691px;font-size:14.5px;line-height:20px;color:#1c2432;right:298.29999999999995px;letter-spacing:0.009px;margin-right:-0.009px;">$1,548.96</span>
</div>
</div>

</body></html>
